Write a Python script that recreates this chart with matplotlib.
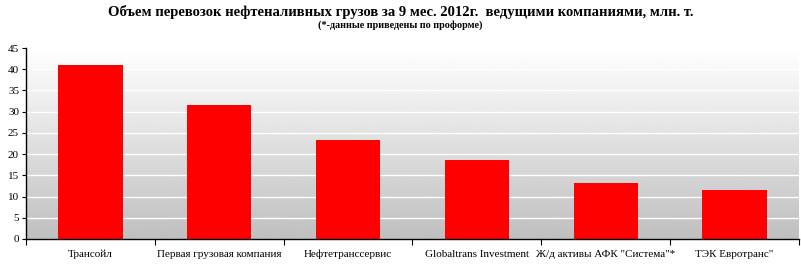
import matplotlib
matplotlib.use("Agg")
import matplotlib.pyplot as plt
import numpy as np

categories = ["Трансойл", "Первая грузовая компания", "Нефтетранссервис",
              "Globaltrans Investment", "Ж/д активы АФК \"Система\"*", "ТЭК Евротранс\""]
values = [41.0, 31.6, 23.3, 18.6, 13.2, 11.5]
yticks = [0, 5, 10, 15, 20, 25, 30, 35, 40, 45]

plt.rcParams['font.family'] = ['Liberation Serif', 'DejaVu Serif']

fig = plt.figure(figsize=(8.01, 2.66), dpi=100)
ax = fig.add_axes([26/801, 1-239/266, 773/801, (239-48)/266])

n = len(categories)
ax.set_xlim(0, n)
ax.set_ylim(0, 45)

# gradient background
grad = np.linspace(1.0, 0.75, 256).reshape(-1, 1)
ax.imshow(grad, cmap='gray', vmin=0, vmax=1, aspect='auto',
          extent=[0, n, 0, 45], origin='upper', zorder=0)

for y in yticks[1:]:
    ax.axhline(y, color='white', lw=1, zorder=1)

x = np.arange(n) + 0.5
ax.bar(x, values, width=0.5, color='#ff0000', zorder=2)

ax.set_yticks(yticks)
ax.set_yticklabels([str(t) for t in yticks], fontsize=8)
ax.set_xticks(np.arange(n + 1), minor=False)
ax.set_xticklabels([])
ax.set_xticks(x, minor=True)
ax.set_xticklabels(categories, minor=True, fontsize=8, va='baseline')
ax.tick_params(axis='x', which='minor', length=0, pad=13)
ax.tick_params(axis='x', which='major', length=4, direction='out')
ax.tick_params(axis='y', length=3, direction='out', pad=2)

for s in ['top', 'right']:
    ax.spines[s].set_visible(False)
ax.spines['left'].set_linewidth(1)
ax.spines['bottom'].set_linewidth(1)

fig.text(0.5, 1-12/266, "Объем перевозок нефтеналивных грузов за 9 мес. 2012г.  ведущими компаниями, млн. т.",
         ha='center', va='center', fontsize=10.5, fontweight='bold')
fig.text(0.5, 1-25/266, "(*-данные приведены по проформе)",
         ha='center', va='center', fontsize=7.3, fontweight='bold')

fig.savefig("out.png", dpi=100)
